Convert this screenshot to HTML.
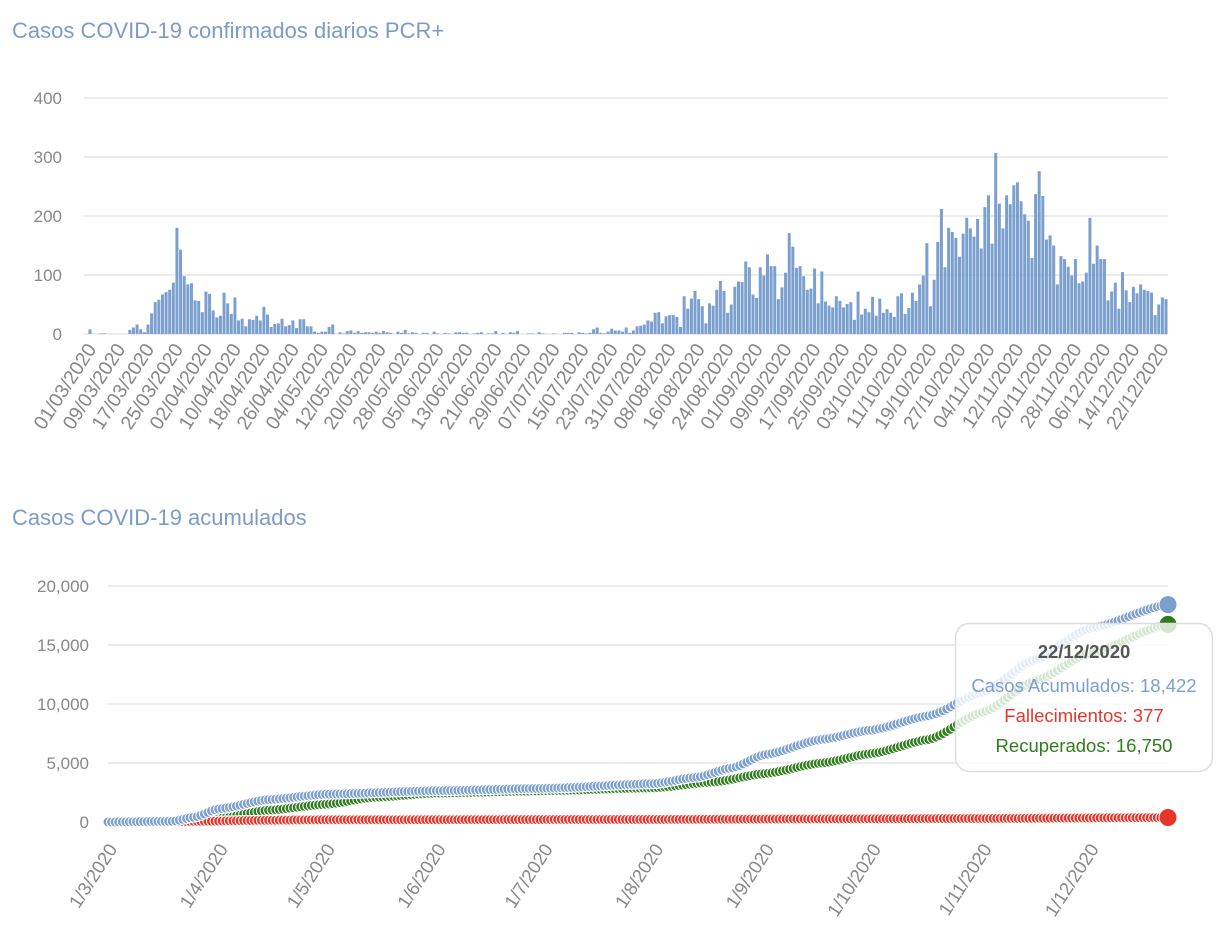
<!DOCTYPE html>
<html><head><meta charset="utf-8">
<style>
html,body{margin:0;padding:0;background:#fff;width:1226px;height:944px;overflow:hidden}
svg{display:block;font-family:"Liberation Sans",sans-serif}
</style></head><body>
<svg id="s" width="1226" height="944" xmlns="http://www.w3.org/2000/svg">
<text x="12" y="38" font-size="22" fill="#7b9cc8">Casos COVID-19 confirmados diarios PCR+</text>
<text x="12" y="525" font-size="22" fill="#7b9cc8">Casos COVID-19 acumulados</text>
<g id="g"></g>
</svg>
<script>
var d=[8,0,0,1,1,0,0,0,0,0,0,
7,11,16,8,3,16,35,54,58,67,71,75,87,180,143,98,84,86,57,56,37,72,68,40,28,31,70,52,34,62,23,26,13,25,24,31,23,46,33,12,17,18,26,13,15,23,10,25,25,13,13,4,2,4,4,12,16,0,3,1,5,6,2,5,2,3,3,2,4,2,5,3,2,0,4,2,7,1,3,2,0,2,2,0,4,1,0,2,1,0,3,3,2,2,0,1,2,3,0,1,1,5,0,2,0,3,2,5,0,0,1,1,0,3,1,0,0,1,0,0,2,2,2,0,3,2,1,2,8,11,2,1,4,9,6,6,4,11,2,6,13,
14,16,23,21,36,37,18,30,32,32,29,12,64,43,60,73,59,47,18,52,48,75,90,73,36,50,80,89,88,123,113,67,61,113,99,135,115,115,59,79,104,171,148,112,115,98,75,77,111,52,106,55,48,45,64,56,45,51,54,24,72,33,43,37,63,31,60,36,42,36,29,64,69,34,44,70,56,84,99,154,47,92,156,212,113,180,173,163,131,170,197,179,165,195,145,215,235,153,307,221,179,235,220,252,257,225,203,192,129,237,276,234,160,167,150,84,132,127,114,99,127,86,89,104,197,119,150,127,127,57,72,87,43,105,74,54,80,69,84,75,73,70,32,50,62,59];
var N=d.length,h='';
var y0=334,k=0.59;
[0,100,200,300,400].forEach(function(v){var y=y0-v*k;h+='<line x1="84" x2="1168" y1="'+y+'" y2="'+y+'" stroke="#d8d8d8" stroke-width="1"/>';
h+='<text x="62" y="'+(y+6)+'" text-anchor="end" font-size="17" fill="#888">'+v+'</text>';});
var x0=90,x1=1166,p=(x1-x0)/(N-1);
for(var i=0;i<N;i++){var x=x0+i*p,v=d[i];if(v>0)h+='<rect x="'+(x-1.5).toFixed(2)+'" y="'+(y0-v*k).toFixed(2)+'" width="3" height="'+(v*k).toFixed(2)+'" fill="#7b9fcf"/>';}
for(var i=0;i<N;i+=8){var dt=new Date(2020,2,1+i);var s=('0'+dt.getDate()).slice(-2)+'/'+('0'+(dt.getMonth()+1)).slice(-2)+'/2020';var x=x0+i*p;
h+='<text transform="translate('+(x+7)+',349) rotate(-57)" text-anchor="end" font-size="19.5" fill="#888">'+s+'</text>';}
var b0=822,bk=59/5000;
[0,5000,10000,15000,20000].forEach(function(v){var y=b0-v*bk;h+='<line x1="108" x2="1168" y1="'+y+'" y2="'+y+'" stroke="#d8d8d8" stroke-width="1"/>';
h+='<text x="89" y="'+(y+6)+'" text-anchor="end" font-size="17" fill="#888">'+(v?v.toLocaleString('en-US'):'0')+'</text>';});
var bx0=108,bx1=1168,bp=(bx1-bx0)/(N-1);
function interp(pts){var a=[];for(var i=0;i<N;i++){for(var j=0;j<pts.length-1;j++){if(i>=pts[j][0]&&i<=pts[j+1][0]){var f=(i-pts[j][0])/(pts[j+1][0]-pts[j][0]);f=(1-Math.cos(f*Math.PI))/2*0.5+f*0.5;a.push(pts[j][1]+f*(pts[j+1][1]-pts[j][1]));break;}}}return a;}
var c=interp([[0,0],[18,60],[24,400],[31,1100],[45,1900],[61,2350],[92,2650],[122,2850],[153,3250],[165,3800],[175,4600],[184,5700],[200,7000],[214,7800],[230,9000],[245,11000],[260,13800],[275,16400],[N-1,18422]]);
var g=interp([[0,0],[22,0],[31,300],[45,1000],[61,1500],[75,2100],[92,2450],[122,2650],[153,2900],[170,3400],[184,4100],[200,5000],[214,5800],[230,7000],[245,9300],[260,12000],[275,14300],[N-1,16750]]);
var r=interp([[0,0],[17,0],[25,60],[45,150],[61,190],[153,220],[200,260],[245,300],[N-1,377]]);
function ser(a,col){var s='';for(var i=0;i<N-1;i++){s+='<circle cx="'+(bx0+i*bp).toFixed(2)+'" cy="'+(b0-a[i]*bk).toFixed(2)+'" r="5" fill="'+col+'" stroke="#fff" stroke-width="1"/>';}return s;}
h+=ser(g,'#2f7d1c')+ser(r,'#e8352a')+ser(c,'#7b9fcf');
h+='<circle cx="1168" cy="'+(b0-18422*bk)+'" r="9" fill="#7b9fcf" stroke="#fff"/>';
h+='<circle cx="1168" cy="'+(b0-16750*bk)+'" r="9" fill="#2f7d1c" stroke="#fff"/>';
h+='<circle cx="1168" cy="'+(b0-377*bk)+'" r="9" fill="#e8352a" stroke="#fff"/>';
var lab=[['1/3',0],['1/4',31],['1/5',61],['1/6',92],['1/7',122],['1/8',153],['1/9',184],['1/10',214],['1/11',245],['1/12',275]];
lab.forEach(function(l){var x=bx0+l[1]*bp;h+='<text transform="translate('+(x+10)+',849) rotate(-57)" text-anchor="end" font-size="18.5" fill="#888">'+l[0]+'/2020</text>';});
h+='<rect x="955.5" y="623.5" width="257" height="148" rx="14" fill="#fff" fill-opacity="0.8" stroke="#ddd" stroke-width="1.5"/>';
h+='<text x="1084" y="658" text-anchor="middle" font-size="18.5" font-weight="bold" fill="#555">22/12/2020</text>';
h+='<text x="1084" y="692" text-anchor="middle" font-size="18.5" fill="#7b9fcf">Casos Acumulados: 18,422</text>';
h+='<text x="1084" y="722" text-anchor="middle" font-size="18.5" fill="#e8352a">Fallecimientos: 377</text>';
h+='<text x="1084" y="752" text-anchor="middle" font-size="18.5" fill="#2f7d1c">Recuperados: 16,750</text>';
document.getElementById('g').innerHTML=h;
</script>
</body></html>
